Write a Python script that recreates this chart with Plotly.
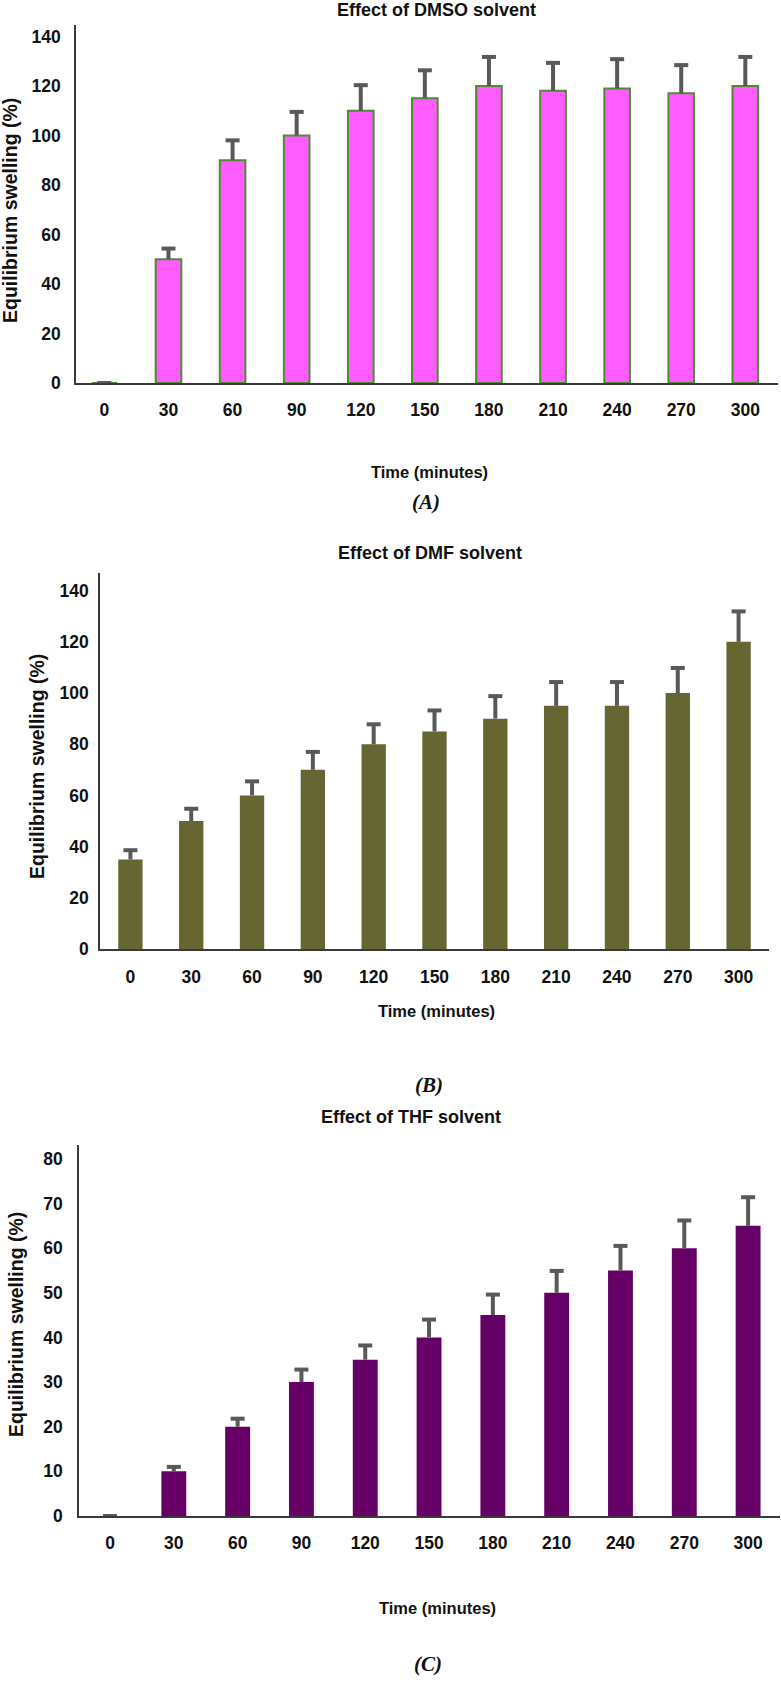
import plotly.graph_objects as go

# ---------------- data ----------------
times = [0, 30, 60, 90, 120, 150, 180, 210, 240, 270, 300]
time_labels = [str(t) for t in times]

dmso_values = [0, 50, 90, 100, 110, 115, 120, 118, 119, 117, 120]
dmso_errors = [0, 4.3, 8, 9.5, 10.3, 11.3, 11.7, 11.3, 11.8, 11.4, 11.7]

dmf_values = [35, 50, 60, 70, 80, 85, 90, 95, 95, 100, 120]
dmf_errors = [3.6, 4.8, 5.5, 7, 7.8, 8.2, 8.8, 9.3, 9.3, 9.8, 11.9]

thf_values = [0, 10, 20, 30, 35, 40, 45, 50, 55, 60, 65]
thf_errors = [0, 1, 1.8, 2.8, 3.2, 4, 4.6, 4.9, 5.5, 6.2, 6.4]

titles = ["Effect of DMSO solvent", "Effect of DMF solvent", "Effect of THF solvent"]
y_title = "Equilibrium swelling (%)"
x_title = "Time (minutes)"
captions = ["(A)", "(B)", "(C)"]

# ---------------- layout helpers ----------------
W, H = 781, 1684


def px(x):
    return x / W


def py(y):
    return 1 - y / H


SANS = "Liberation Sans, Arial, sans-serif"
SERIF = "Liberation Serif, Times New Roman, serif"
ERR_COLOR = "#595959"
AXIS_COLOR = "#3a3a3a"

panels = [
    dict(values=dmso_values, errors=dmso_errors, fill="#FF5CFF",
         line=dict(color="#4E8B34", width=2), bw=0.40,
         xdom=(76, 778), ydom=(383, 25), xr=[-0.443, 10.51], yr=[0, 144.6], dtick=20,
         xticklen=10, yticklen=10,
         title=(436, 10), ytitle=(10, 211), xtitle=(429, 472), cap=(426, 502)),
    dict(values=dmf_values, errors=dmf_errors, fill="#666633",
         line=dict(width=0), bw=0.40,
         xdom=(100, 769), ydom=(949, 573), xr=[-0.5, 10.5], yr=[0, 146.9], dtick=20,
         xticklen=11, yticklen=6,
         title=(430, 553), ytitle=(37, 767), xtitle=(436, 1011), cap=(429, 1085)),
    dict(values=thf_values, errors=thf_errors, fill="#660066",
         line=dict(width=0), bw=0.39,
         xdom=(79, 780), ydom=(1516, 1145), xr=[-0.486, 10.5], yr=[0, 83.1], dtick=10,
         xticklen=10, yticklen=11,
         title=(411, 1117), ytitle=(16, 1325), xtitle=(437, 1608), cap=(428, 1664)),
]

fig = go.Figure()
annotations = []

for i, p in enumerate(panels, start=1):
    xa = "x" if i == 1 else f"x{i}"
    ya = "y" if i == 1 else f"y{i}"

    fig.add_trace(go.Bar(
        x=time_labels, y=p["values"], width=p["bw"],
        marker=dict(color=p["fill"], line=p["line"]),
        xaxis=xa, yaxis=ya, showlegend=False, hoverinfo="skip",
    ))

    # one-sided (upper) error bars: stem + cap
    sx, sy = [], []
    for lab, v, e in zip(time_labels, p["values"], p["errors"]):
        sx += [lab, lab, None]
        sy += [v, v + e, None]
    fig.add_trace(go.Scatter(
        x=sx, y=sy, mode="lines", line=dict(color=ERR_COLOR, width=4),
        xaxis=xa, yaxis=ya, showlegend=False, hoverinfo="skip", cliponaxis=False,
    ))
    fig.add_trace(go.Scatter(
        x=time_labels, y=[v + e for v, e in zip(p["values"], p["errors"])],
        mode="markers",
        marker=dict(symbol="line-ew", size=10, line=dict(color=ERR_COLOR, width=4)),
        xaxis=xa, yaxis=ya, showlegend=False, hoverinfo="skip", cliponaxis=False,
    ))

    xkey = "xaxis" if i == 1 else f"xaxis{i}"
    ykey = "yaxis" if i == 1 else f"yaxis{i}"
    fig.update_layout(**{
        xkey: dict(
            domain=[px(p["xdom"][0]), px(p["xdom"][1])], anchor=ya,
            type="category", range=p["xr"], showgrid=False, zeroline=False,
            showline=True, linecolor=AXIS_COLOR, linewidth=1.5,
            ticks="outside", ticklen=p["xticklen"], tickcolor="rgba(0,0,0,0)",
            tickfont=dict(family=SANS, size=17.5, color="#111", weight="bold"),
            automargin=False, fixedrange=True,
        ),
        ykey: dict(
            domain=[py(p["ydom"][0]), py(p["ydom"][1])], anchor=xa,
            range=p["yr"], dtick=p["dtick"], tick0=0, showgrid=False, zeroline=False,
            showline=True, linecolor=AXIS_COLOR, linewidth=1.5,
            ticks="outside", ticklen=p["yticklen"], tickcolor="rgba(0,0,0,0)",
            tickfont=dict(family=SANS, size=17.5, color="#111", weight="bold"),
            automargin=False, fixedrange=True,
        ),
    })

    annotations += [
        dict(text=titles[i - 1], x=px(p["title"][0]), y=py(p["title"][1]),
             font=dict(family=SANS, size=18, color="#111", weight="bold")),
        dict(text=y_title, x=px(p["ytitle"][0]), y=py(p["ytitle"][1]), textangle=-90,
             font=dict(family=SANS, size=19.5, color="#111", weight="bold")),
        dict(text=x_title, x=px(p["xtitle"][0]), y=py(p["xtitle"][1]),
             font=dict(family=SANS, size=16.5, color="#111", weight="bold")),
        dict(text=captions[i - 1], x=px(p["cap"][0]), y=py(p["cap"][1]),
             font=dict(family=SERIF, size=21, color="#111", weight="bold", style="italic")),
    ]

for a in annotations:
    a.update(xref="paper", yref="paper", xanchor="center", yanchor="middle", showarrow=False)

fig.update_layout(
    width=W, height=H, autosize=False,
    margin=dict(l=0, r=0, t=0, b=0, pad=0),
    paper_bgcolor="white", plot_bgcolor="white",
    showlegend=False, bargap=0.6,
    annotations=annotations,
)

fig.write_html("out.html", config={"displayModeBar": False})
